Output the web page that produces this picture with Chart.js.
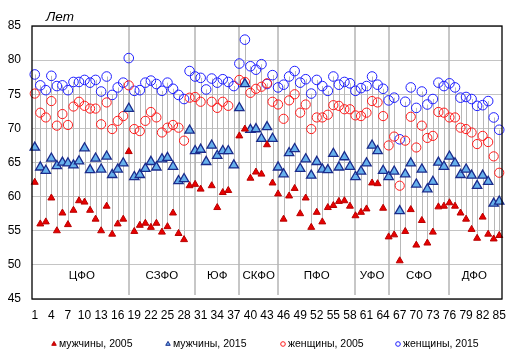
<!DOCTYPE html>
<html lang="ru">
<head>
<meta charset="utf-8">
<title>Ожидаемая продолжительность жизни по регионам</title>
<script src="https://cdn.jsdelivr.net/npm/chart.js@4.4.1/dist/chart.umd.min.js"></script>
<style>
    html, body { margin: 0; padding: 0; background: #fff; }
    #wrap { position: relative; width: 518px; height: 364px; }
</style>
</head>
<body>
<div id="wrap"><canvas id="lifeChart" width="518" height="364"></canvas></div>
<script>
// Region numbers 1..85 (category axis)
const regions = ['1','2','3','4','5','6','7','8','9','10','11','12','13','14','15','16','17','18','19','20',
    '21','22','23','24','25','26','27','28','29','30','31','32','33','34','35','36','37','38','39','40',
    '41','42','43','44','45','46','47','48','49','50','51','52','53','54','55','56','57','58','59','60',
    '61','62','63','64','65','66','67','68','69','70','71','72','73','74','75','76','77','78','79','80',
    '81','82','83','84','85'];

const men2005 = [62.1,56.0,56.3,59.8,55.0,57.6,55.9,58.0,59.4,59.2,58.0,56.7,55.0,58.6,54.5,56.0,56.7,66.6,54.9,55.8,
    56.1,55.5,56.1,54.8,55.6,57.6,54.6,53.7,61.6,61.8,61.1,null,61.6,58.4,60.6,60.9,null,68.9,69.9,62.7,
    63.6,63.3,67.6,62.0,60.4,56.7,60.1,61.2,57.5,59.8,55.5,57.7,56.3,58.4,58.7,59.3,59.4,58.6,57.2,57.7,
    58.2,62.0,61.9,58.3,54.1,54.4,50.6,54.9,58.1,52.9,56.5,53.2,54.8,58.5,58.6,59.1,58.6,57.6,56.7,55.2,
    53.9,57.0,54.5,53.8,54.3];

const men2015 = [67.2,64.3,63.8,65.6,64.5,65.0,64.9,64.6,65.2,67.1,63.9,65.6,64.0,65.9,63.2,64.0,64.9,72.9,62.9,63.2,
    64.1,65.1,64.3,65.5,65.7,64.4,62.3,62.6,69.7,66.7,66.9,65.1,67.5,66.0,66.7,66.7,64.6,73.0,76.5,69.8,
    69.9,68.5,70.2,68.5,64.3,63.3,66.4,67.0,64.1,65.5,63.1,65.1,64.0,63.9,66.3,64.3,65.8,64.4,62.9,63.7,
    64.9,67.5,66.7,63.8,62.9,63.7,57.9,63.3,64.9,61.8,64.0,61.1,62.2,65.0,64.4,65.9,64.9,63.2,64.0,63.1,
    61.6,63.1,62.2,59.0,59.3];

const women2005 = [75.1,72.3,71.6,74.0,70.4,72.1,70.5,73.2,73.9,73.3,72.9,72.9,70.6,73.8,69.9,71.1,71.8,76.3,69.9,69.6,
    71.1,72.4,71.6,69.4,70.1,70.5,70.1,68.2,74.5,74.6,73.9,null,73.9,73.0,73.9,73.3,null,77.1,76.8,75.2,
    75.8,76.1,76.6,73.9,73.5,71.4,74.1,75.0,72.3,73.5,69.9,71.6,71.6,72.0,73.4,73.3,72.8,72.8,71.9,71.8,
    72.3,74.0,73.8,71.8,67.5,68.8,61.6,68.2,71.7,67.2,70.4,68.6,68.9,72.4,72.3,71.6,71.6,70.1,69.9,69.4,
    67.7,68.9,68.0,65.9,63.5];

const women2015 = [77.9,76.3,75.6,77.7,76.2,76.3,75.6,76.8,76.8,77.1,76.7,77.1,75.4,77.6,74.9,76.0,76.7,80.3,75.5,75.6,
    76.7,77.0,76.5,75.5,76.7,75.8,74.9,74.3,78.4,77.6,77.4,75.7,77.3,76.7,77.2,76.8,76.2,79.5,83.0,79.1,
    78.6,79.4,76.5,77.8,76.0,76.4,77.6,78.4,76.7,77.2,75.1,77.1,76.2,75.5,77.6,76.4,76.8,76.6,75.5,75.9,
    76.2,77.6,76.4,75.8,74.1,74.5,68.4,73.9,76.0,73.0,75.4,73.5,74.3,76.7,76.2,76.6,76.0,74.5,74.6,74.3,
    73.3,73.4,74.0,71.6,69.8];

const yTicks = [45, 50, 55, 60, 65, 70, 75, 80, 85];

// Federal districts and the region number where each separator line sits
const districts = ['ЦФО', 'СЗФО', 'ЮФ', 'СКФО', 'ПФО', 'УФО', 'СФО', 'ДФО'];
const districtLines = ['18', '30', '38', '45', '59', '65', '76'];

const seriesNames = ['мужчины, 2005', 'мужчины, 2015', 'женщины, 2005', 'женщины, 2015'];

const FONT = "'Liberation Sans', Arial, sans-serif";
Chart.defaults.font.family = FONT;
Chart.defaults.color = '#000';

// grey high-low lines per region, district separators and their names
const backdrop = {
    id: 'backdrop',
    beforeDatasetsDraw(chart) {
        const { ctx, chartArea, scales: { x, y } } = chart;
        const series = chart.data.datasets.map(d => d.data);
        ctx.save();

        ctx.strokeStyle = '#b8b8b8';
        ctx.lineWidth = 1;
        regions.forEach((r, i) => {
            const vals = series.map(s => s[i]).filter(v => v != null);
            if (vals.length < 2) return;
            const px = Math.round(x.getPixelForValue(i)) + 0.5;
            ctx.beginPath();
            ctx.moveTo(px, y.getPixelForValue(Math.max(...vals)));
            ctx.lineTo(px, y.getPixelForValue(Math.min(...vals)));
            ctx.stroke();
        });

        const linePx = districtLines.map(r => x.getPixelForValue(regions.indexOf(r)));
        ctx.strokeStyle = '#b4b4b4';
        ctx.lineWidth = 1.5;
        linePx.forEach(px => {
            ctx.beginPath();
            ctx.moveTo(Math.round(px), chartArea.top);
            ctx.lineTo(Math.round(px), chartArea.bottom - 4);
            ctx.stroke();
        });

        const edges = [x.getPixelForValue(0), ...linePx, x.getPixelForValue(regions.length - 1)];
        ctx.fillStyle = '#000';
        ctx.font = '11.5px ' + FONT;
        ctx.textAlign = 'center';
        ctx.textBaseline = 'middle';
        const ly = y.getPixelForValue(48.4);
        districts.forEach((name, i) => {
            ctx.fillText(name, (edges[i] + edges[i + 1]) / 2, ly);
        });
        ctx.restore();
    },
    afterDraw(chart) {
        const { ctx, chartArea } = chart;
        ctx.save();
        ctx.strokeStyle = '#000';
        ctx.lineWidth = 1.3;
        ctx.strokeRect(chartArea.left, chartArea.top, chartArea.right - chartArea.left, chartArea.bottom - chartArea.top);

        ctx.fillStyle = '#000';
        ctx.font = 'italic 13.5px ' + FONT;
        ctx.textAlign = 'center';
        ctx.textBaseline = 'alphabetic';
        ctx.fillText('Лет', 60, 21);

        // legend along the bottom
        const legendX = [54, 168, 283, 398];
        const legendY = 344;
        ctx.font = '10.5px ' + FONT;
        ctx.textAlign = 'left';
        ctx.textBaseline = 'middle';
        chart.data.datasets.forEach((ds, i) => {
            ctx.fillStyle = ds.backgroundColor;
            ctx.strokeStyle = ds.borderColor;
            ctx.lineWidth = 1;
            Chart.helpers.drawPoint(ctx, {
                pointStyle: ds.pointStyle,
                radius: ds.pointStyle === 'triangle' ? 2.6 : 2.3,
                borderWidth: 1
            }, legendX[i], legendY);
            ctx.fillStyle = '#000';
            ctx.fillText(ds.label, legendX[i] + 5, legendY);
        });
        ctx.restore();
    }
};

const ctx = document.getElementById('lifeChart').getContext('2d');
new Chart(ctx, {
    type: 'line',
    data: {
        labels: regions,
        datasets: [
            {
                label: seriesNames[0], data: men2005, showLine: false,
                pointStyle: 'triangle', pointRadius: 4,
                backgroundColor: '#e80000', borderColor: '#b80000', borderWidth: 1
            },
            {
                label: seriesNames[1], data: men2015, showLine: false,
                pointStyle: 'triangle', pointRadius: 5.4,
                backgroundColor: '#66b0ec', borderColor: '#1a2b8c', borderWidth: 1.3
            },
            {
                label: seriesNames[2], data: women2005, showLine: false,
                pointStyle: 'circle', pointRadius: 4.6,
                backgroundColor: 'rgba(0,0,0,0)', borderColor: '#ff1a1a', borderWidth: 1
            },
            {
                label: seriesNames[3], data: women2015, showLine: false,
                pointStyle: 'circle', pointRadius: 4.8,
                backgroundColor: 'rgba(0,0,0,0)', borderColor: '#1f1fff', borderWidth: 1
            }
        ]
    },
    options: {
        responsive: false,
        animation: false,
        events: [],
        layout: { padding: { left: 0, right: 16, top: 26, bottom: 0 } },
        plugins: {
            legend: { display: false },
            tooltip: { enabled: false }
        },
        scales: {
            x: {
                type: 'category',
                offset: true,
                grid: { display: false, drawTicks: false },
                border: { display: false },
                ticks: {
                    autoSkip: false, maxRotation: 0, padding: 9,
                    font: { size: 12 },
                    callback: (v, i) => (i % 3 === 0 ? regions[i] : '')
                },
                afterFit: scale => { scale.height = 65; }
            },
            y: {
                min: yTicks[0],
                max: yTicks[yTicks.length - 1],
                grid: { color: '#c4c4c4', drawTicks: false },
                border: { display: false },
                ticks: { stepSize: yTicks[1] - yTicks[0], padding: 11, font: { size: 12 } },
                afterFit: scale => { scale.width = 32; }
            }
        }
    },
    plugins: [backdrop]
});
</script>
</body>
</html>
